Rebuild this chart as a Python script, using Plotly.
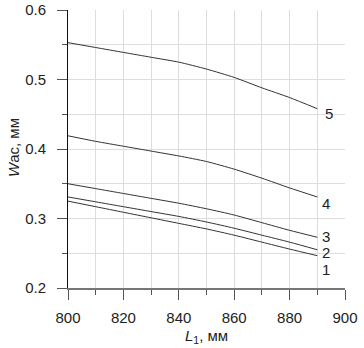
import plotly.graph_objects as go

L1 = [800, 810, 820, 830, 840, 850, 860, 870, 880, 890]
w1 = [0.325, 0.317, 0.309, 0.301, 0.293, 0.285, 0.276, 0.266, 0.256, 0.2465]
w2 = [0.331, 0.324, 0.317, 0.310, 0.303, 0.295, 0.286, 0.276, 0.266, 0.255]
w3 = [0.350, 0.343, 0.336, 0.329, 0.322, 0.314, 0.305, 0.294, 0.283, 0.273]
w4 = [0.419, 0.411, 0.404, 0.397, 0.390, 0.382, 0.371, 0.358, 0.344, 0.331]
w5 = [0.553, 0.546, 0.539, 0.532, 0.525, 0.515, 0.503, 0.488, 0.474, 0.458]
series = [w1, w2, w3, w4, w5]
labels = ["1", "2", "3", "4", "5"]
label_y = [0.227, 0.2504, 0.274, 0.322, 0.451]
label_x = [893.1, 893.1, 893.1, 893.1, 894.1]

W, H = 364, 348
L, R, T, B = 68, 19, 10, 60
pw, ph = W - L - R, H - T - B

fig = go.Figure()
for s in series:
    fig.add_trace(go.Scatter(x=L1, y=s, mode="lines",
                             line=dict(color="#333333", width=1, shape="spline", smoothing=0.6),
                             showlegend=False, hoverinfo="skip"))

font = dict(family="Liberation Sans, Arial, sans-serif", size=15, color="#222222")
for t, lx, ly in zip(labels, label_x, label_y):
    fig.add_annotation(x=lx, y=ly, text=t, showarrow=False, xanchor="center",
                       yanchor="middle", font=font)

fig.add_annotation(xref="paper", yref="paper", x=(206 - 68) / pw, y=-(336 - 288) / ph,
                   text="<i>L</i><sub>1</sub>, мм", showarrow=False,
                   xanchor="center", yanchor="middle", font=font)
fig.add_annotation(xref="paper", yref="paper", x=-(68 - 13) / pw, y=(288 - 148) / ph,
                   text="<i>W</i>ac, мм", showarrow=False, textangle=-90,
                   xanchor="center", yanchor="middle", font=font)

fig.update_layout(
    width=W, height=H,
    margin=dict(l=L, r=R, t=T, b=B, autoexpand=False),
    plot_bgcolor="white", paper_bgcolor="white",
    font=font,
)
fig.update_xaxes(range=[800, 900], dtick=20, tick0=800, ticks="outside", ticklen=10,
                 tickcolor="#555555", showline=True, linecolor="#777777", linewidth=2,
                 showgrid=True, gridcolor="#dddddd", gridwidth=1, zeroline=False,
                 automargin=False, ticklabelstandoff=5,
                 minor=dict(dtick=10, ticks="outside", ticklen=5, tickcolor="#555555",
                            showgrid=True, gridcolor="#dddddd"),
                 tickfont=font)
fig.update_yaxes(range=[0.2, 0.6], dtick=0.1, tick0=0.2, ticks="outside", ticklen=10,
                 tickcolor="#555555", showline=True, linecolor="#111111", linewidth=1,
                 showgrid=True, gridcolor="#dddddd", gridwidth=1, zeroline=False,
                 automargin=False, ticklabelstandoff=8,
                 minor=dict(dtick=0.05, ticks="outside", ticklen=5, tickcolor="#555555",
                            showgrid=True, gridcolor="#dddddd"),
                 tickformat=".1f", tickfont=font)

fig.write_html("out.html", config={"displayModeBar": False},
               post_script="document.body.style.margin='0';")
